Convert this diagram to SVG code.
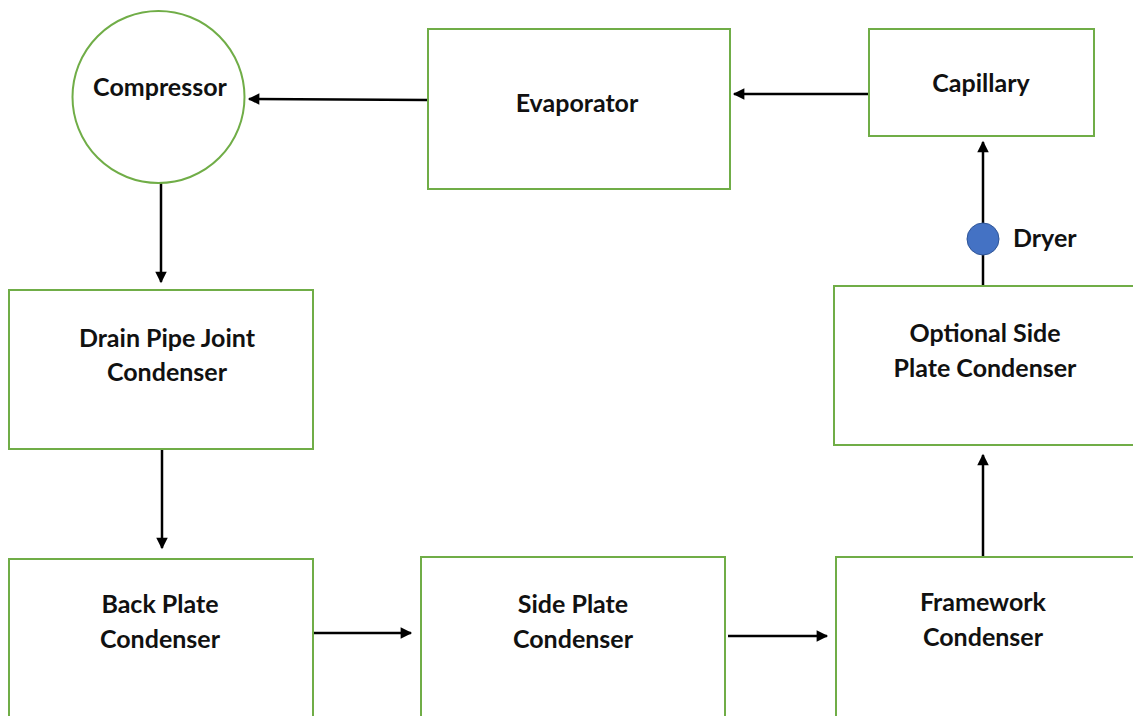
<svg xmlns="http://www.w3.org/2000/svg" width="1133" height="716" viewBox="0 0 1133 716">
<style>
.box{fill:#fff;stroke:#70ad47;stroke-width:2}
.t{font-family:Lato,"Liberation Sans",sans-serif;font-weight:bold;font-size:25px;fill:#111;text-anchor:middle}
.c{stroke:#000;stroke-width:2.5;fill:none;marker-end:url(#ah)}
</style>
<defs>
<marker id="ah" viewBox="0 0 10 10" refX="9" refY="5" markerWidth="5.4" markerHeight="4.6" orient="auto" markerUnits="strokeWidth">
<path d="M0,0L10,5L0,10z" fill="#000"/>
</marker>
</defs>
<rect width="1133" height="716" fill="#fff"/>
<g id="connectors">
<line class="c" x1="428" y1="100" x2="249" y2="99"/>
<line class="c" x1="869" y1="94" x2="734" y2="94"/>
<line class="c" x1="161" y1="183" x2="161" y2="282"/>
<line class="c" x1="162" y1="449" x2="162" y2="548"/>
<line class="c" x1="313" y1="633" x2="411" y2="633"/>
<line class="c" x1="728" y1="636" x2="827" y2="636"/>
<line class="c" x1="983" y1="557" x2="983" y2="455"/>
<line class="c" x1="983" y1="286" x2="983" y2="142"/>
</g>
<g id="compressor">
<circle cx="158.5" cy="97" r="86" fill="#fff" stroke="#70ad47" stroke-width="2"/>
<text class="t" x="160" y="96">Compressor</text>
</g>
<g id="evaporator">
<rect class="box" x="428" y="29" width="302" height="160"/>
<text class="t" x="577" y="112">Evaporator</text>
</g>
<g id="capillary">
<rect class="box" x="869" y="29" width="225" height="107"/>
<text class="t" x="981" y="92">Capillary</text>
</g>
<g id="drain-pipe">
<rect class="box" x="9" y="290" width="304" height="159"/>
<text class="t" x="167" y="347">Drain Pipe Joint</text>
<text class="t" x="167" y="381">Condenser</text>
</g>
<g id="back-plate">
<rect class="box" x="9" y="559" width="304" height="170"/>
<text class="t" x="160" y="613">Back Plate</text>
<text class="t" x="160" y="648">Condenser</text>
</g>
<g id="side-plate">
<rect class="box" x="421" y="557" width="304" height="170"/>
<text class="t" x="573" y="613">Side Plate</text>
<text class="t" x="573" y="648">Condenser</text>
</g>
<g id="framework">
<rect class="box" x="836" y="557" width="310" height="170"/>
<text class="t" x="983" y="611">Framework</text>
<text class="t" x="983" y="646">Condenser</text>
</g>
<g id="optional-side">
<rect class="box" x="834" y="286" width="310" height="159"/>
<text class="t" x="985" y="342">Optional Side</text>
<text class="t" x="985" y="377">Plate Condenser</text>
</g>
<g id="dryer">
<circle cx="983" cy="239" r="16" fill="#4472c4" stroke="#2f5597" stroke-width="1"/>
<text class="t" x="1013" y="247" style="text-anchor:start">Dryer</text>
</g>
</svg>
